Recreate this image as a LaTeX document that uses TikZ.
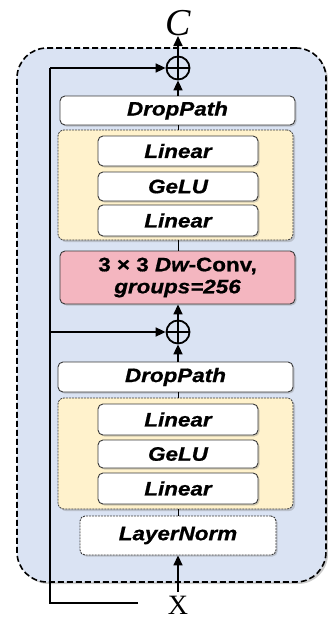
\documentclass[tikz,border=0pt]{standalone}
\usepackage{fontspec}
\usepackage{xcolor}
\usepackage{tikz}
\usetikzlibrary{arrows.meta, shadows}
\setmainfont{Liberation Serif}
\newfontfamily\lblfont[FakeStretch=1.15, FakeBold=0.8]{Liberation Sans}
\definecolor{blockblue}{HTML}{DAE3F3}
\definecolor{mlpyellow}{HTML}{FFF2CC}
\definecolor{convpink}{HTML}{F4B6C0}
\definecolor{edgegray}{HTML}{3A3A3A}
\tikzset{
  lbl/.style={font=\lblfont\bfseries\itshape\fontsize{19.5}{24}\selectfont},
  layerbox/.style={draw=edgegray, line width=0.9pt, fill=white, rounded corners=5pt,
    lbl, inner sep=0pt, drop shadow={opacity=0.35, shadow xshift=1.5pt, shadow yshift=-1.5pt}},
  mlpbox/.style={draw=edgegray, line width=0.8pt, dash pattern=on 2pt off 1pt, fill=mlpyellow,
    rounded corners=6pt, inner sep=0pt, drop shadow={opacity=0.35, shadow xshift=2pt, shadow yshift=-2pt}},
  normbox/.style={layerbox, dash pattern=on 2pt off 1pt},
  convbox/.style={layerbox, fill=convpink, align=center},
  addop/.style={draw, line width=1.8pt, circle, minimum size=23pt, inner sep=0pt,
    path picture={\draw[line width=1.5pt] (path picture bounding box.north) -- (path picture bounding box.south)
      (path picture bounding box.west) -- (path picture bounding box.east);}},
  flow/.style={line width=1.7pt, -{Triangle[length=10pt,width=9pt]}},
  link/.style={line width=1pt},
}

\begin{document}
\begin{tikzpicture}[x=1pt,y=-1pt]
  \useasboundingbox (0,0) rectangle (328,621);

  % outer block
  \node[draw, line width=1.6pt, dash pattern=on 6pt off 3pt, fill=blockblue, rounded corners=30pt,
    minimum width=309pt, minimum height=534pt, inner sep=0pt,
    drop shadow={opacity=0.4, shadow xshift=2pt, shadow yshift=-2pt}] (blk) at (171.5,315) {};

  % second half
  \node[mlpbox, minimum width=235pt, minimum height=110pt] (mlpa) at (175.5,185) {};
  \node[layerbox, minimum width=160pt, minimum height=30pt] (lina1) at (178,151) {Linear};
  \node[layerbox, minimum width=160pt, minimum height=29pt] (gelua) at (178,186.5) {GeLU};
  \node[layerbox, minimum width=160pt, minimum height=31pt] (lina2) at (178,220.5) {Linear};
  \node[layerbox, minimum width=235pt, minimum height=29pt] (dropa) at (177.5,110.5) {DropPath};
  \node[convbox, minimum width=235pt, minimum height=53pt] (conv) at (177.5,277.5)
    {\upshape 3 × 3 \itshape Dw\upshape-Conv,\\[-2pt]groups=256};
  \node[addop] (suma) at (178,68) {};
  \node[inner sep=0pt, anchor=south, font=\fontsize{38}{38}\selectfont\itshape] (out) at (178,36) {C};

  % first half
  \node[mlpbox, minimum width=235pt, minimum height=111pt] (mlpb) at (175.5,453.5) {};
  \node[layerbox, minimum width=160pt, minimum height=31pt] (linb1) at (178,419.5) {Linear};
  \node[layerbox, minimum width=160pt, minimum height=28pt] (gelub) at (178,454) {GeLU};
  \node[layerbox, minimum width=160pt, minimum height=31pt] (linb2) at (178,488.5) {Linear};
  \node[layerbox, minimum width=235pt, minimum height=30pt] (dropb) at (175.5,377) {DropPath};
  \node[normbox, minimum width=196pt, minimum height=39pt] (norm) at (178,535.5) {LayerNorm};
  \node[addop] (sumb) at (178,332) {};
  \node[inner sep=0pt, anchor=north, font=\fontsize{28}{28}\selectfont] (in) at (178,596) {X};

  \coordinate (xin) at (178,592);
  \coordinate (skipend) at (138,603);
  \coordinate (skipbot) at (50,603);

  \draw[flow] (xin) -- (norm.south);
  \draw[link] (norm.north) -- (norm.north |- mlpb.south);
  \draw[link] (mlpb.north -| sumb) -- (dropb.south -| sumb);
  \draw[flow] (dropb.north -| sumb) -- (sumb.south);
  \draw[flow] (sumb.north) -- (conv.south -| sumb);
  \draw[link] (conv.north -| suma) -- (mlpa.south -| suma);
  \draw[link] (mlpa.north -| suma) -- (dropa.south -| suma);
  \draw[flow] (dropa.north -| suma) -- (suma.south);
  \draw[flow] (suma.north) -- (out.south);

  \draw[line width=1.7pt] (skipend) -- (skipbot) -- (skipbot |- suma);
  \draw[flow] (skipbot |- sumb) -- (sumb.west);
  \draw[flow] (skipbot |- suma) -- (suma.west);
\end{tikzpicture}
\end{document}
